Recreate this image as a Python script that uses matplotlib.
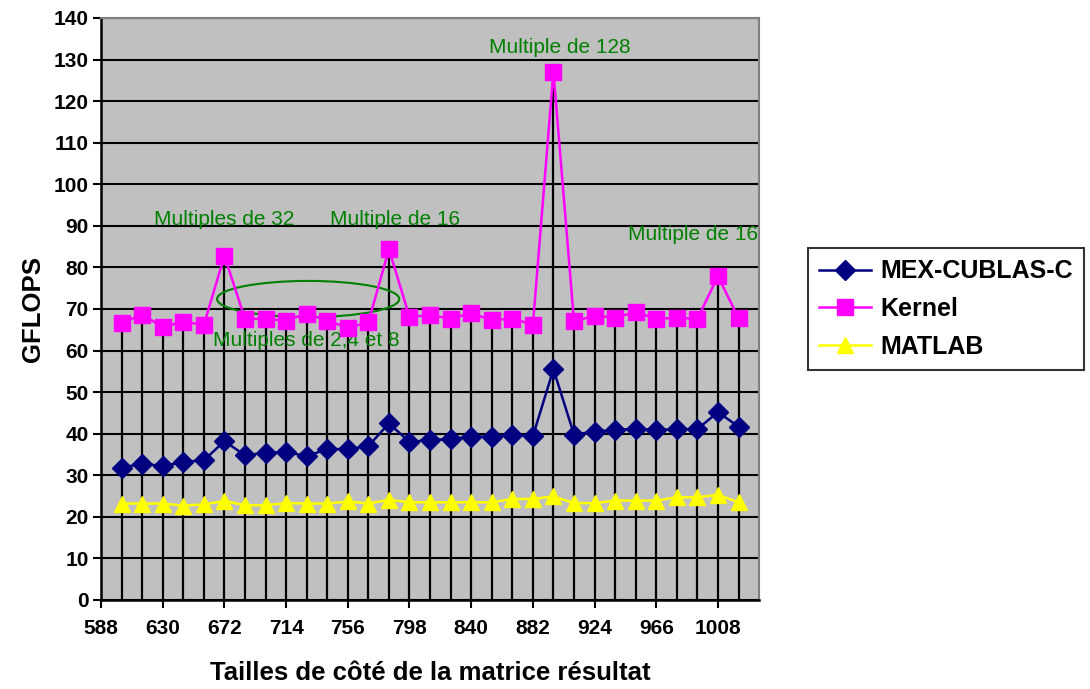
import numpy as np
import matplotlib
matplotlib.use("Agg")
import matplotlib.pyplot as plt
from matplotlib.patches import Ellipse

plt.rcParams['font.family'] = ['Liberation Sans', 'DejaVu Sans']

# matrix sizes (side length of the result matrix)
sizes = list(range(602, 1023, 14))

mex_cublas = [31.8, 32.8, 32.2, 33.2, 33.6, 38.2, 34.8, 35.4, 35.6, 34.6,
              36.3, 36.3, 37.0, 42.5, 38.0, 38.5, 38.7, 39.3, 39.3, 39.8,
              39.4, 55.5, 39.8, 40.5, 40.9, 41.2, 40.9, 41.1, 41.1, 45.2, 41.7]
kernel = [66.7, 68.6, 65.7, 66.9, 66.2, 82.8, 67.6, 67.6, 67.2, 68.9,
          67.2, 65.5, 66.8, 84.4, 68.1, 68.5, 67.7, 69.0, 67.3, 67.7,
          66.2, 127.1, 67.0, 68.4, 67.9, 69.3, 67.6, 67.9, 67.6, 77.9, 67.8]
matlab = [23.2, 23.2, 23.2, 22.7, 23.0, 23.8, 22.8, 22.8, 23.3, 23.2,
          23.2, 23.7, 23.2, 24.1, 23.5, 23.5, 23.5, 23.5, 23.5, 24.3,
          24.3, 24.9, 23.3, 23.3, 23.9, 23.9, 23.9, 24.7, 24.7, 25.3, 23.5]

xticks = list(range(588, 1009, 42))
yticks = list(range(0, 141, 10))

green = '#008000'

fig = plt.figure(figsize=(10.9, 6.89), dpi=100)
ax = fig.add_axes([0.0927, 0.1292, 0.6037, 0.8447])
ax.set_facecolor('#C0C0C0')

for y in yticks:
    ax.axhline(y, color='black', lw=1.5, zorder=1)

# drop lines from the highest series
ax.vlines(sizes, 0, kernel, color='black', lw=1.6, zorder=2)

ax.plot(sizes, mex_cublas, color='#000080', lw=1.8, marker='D', ms=10,
        label='MEX-CUBLAS-C', zorder=4)
ax.plot(sizes, kernel, color='#FF00FF', lw=1.8, marker='s', ms=11,
        label='Kernel', zorder=4)
ax.plot(sizes, matlab, color='#FFFF00', lw=1.8, marker='^', ms=12,
        label='MATLAB', zorder=4)

ax.set_xlim(588, 1036)
ax.set_ylim(0, 140)
ax.set_xticks(xticks)
ax.set_yticks(yticks)
ax.set_xticklabels([str(t) for t in xticks], fontsize=15, fontweight='bold')
ax.set_yticklabels([str(t) for t in yticks], fontsize=15, fontweight='bold')
ax.tick_params(axis='both', direction='out', length=6, width=1.5, color='black')
ax.tick_params(axis='x', pad=8)
ax.tick_params(axis='y', pad=3)

for side in ['left', 'bottom']:
    ax.spines[side].set_linewidth(1.8)
    ax.spines[side].set_color('black')
for side in ['top', 'right']:
    ax.spines[side].set_linewidth(1.5)
    ax.spines[side].set_color('#808080')

ax.set_xlabel('Tailles de côté de la matrice résultat', fontsize=18.5,
              fontweight='bold', labelpad=16)
ax.set_ylabel('GFLOPS', fontsize=18.5, fontweight='bold', labelpad=6)

# annotations
ax.text(672, 91.6, 'Multiples de 32', color=green, fontsize=15, ha='center', va='center')
ax.text(788.5, 91.6, 'Multiple de 16', color=green, fontsize=15, ha='center', va='center')
ax.text(900, 133, 'Multiple de 128', color=green, fontsize=15, ha='center', va='center')
ax.text(991, 88, 'Multiple de 16', color=green, fontsize=15, ha='center', va='center')
ax.text(728, 62.5, 'Multiples de 2,4 et 8', color=green, fontsize=15, ha='center', va='center')
ax.add_patch(Ellipse((729, 72.4), 124, 8.7, fill=False, edgecolor=green, lw=1.5, zorder=3))

leg = fig.legend(loc='center left', bbox_to_anchor=(0.741, 0.5515),
                 frameon=True, fancybox=False, edgecolor='black', borderpad=0.45,
                 handlelength=2.1, handletextpad=0.35, labelspacing=0.55,
                 borderaxespad=0, prop={'weight': 'bold', 'size': 18})
leg.get_frame().set_linewidth(1.5)

fig.savefig('out.png', dpi=100)
